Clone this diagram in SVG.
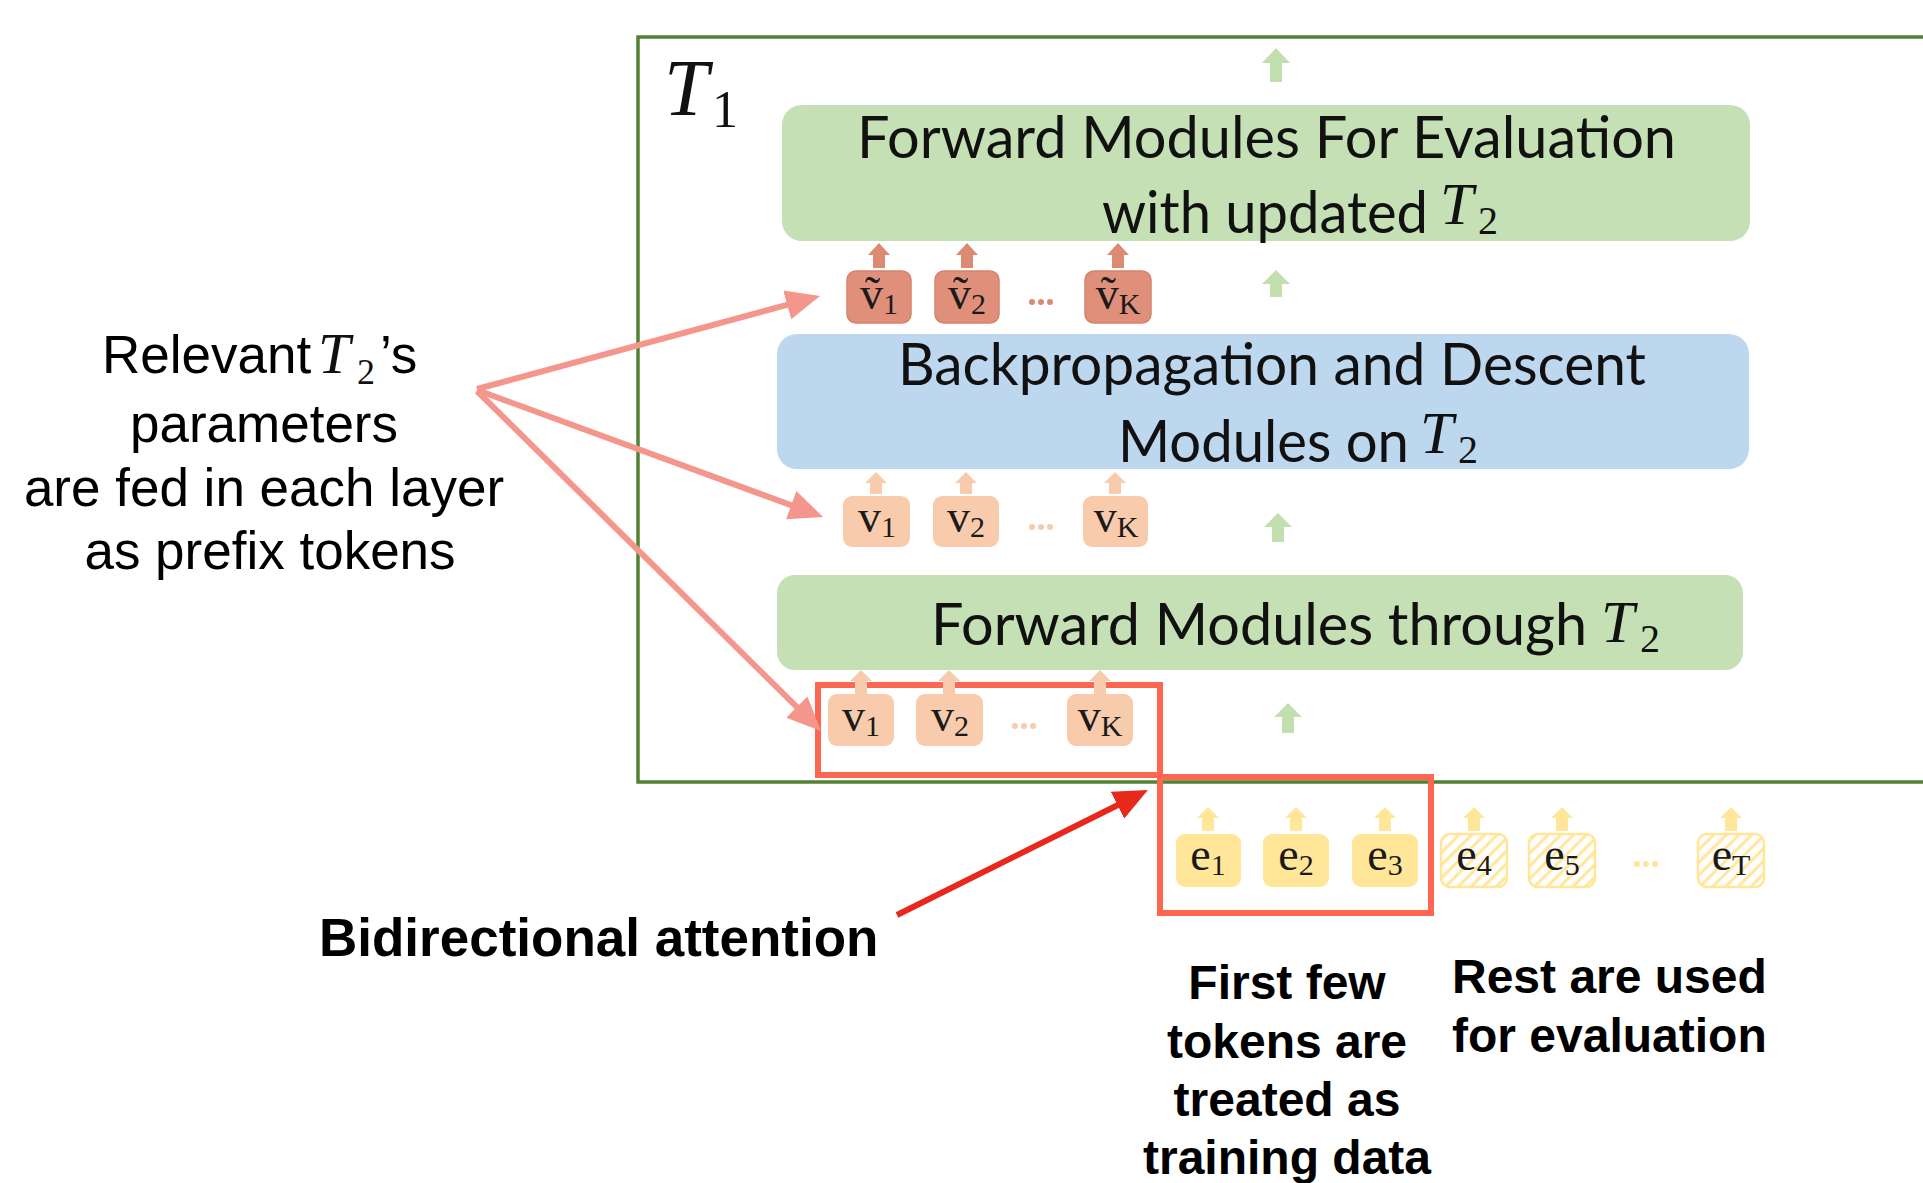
<svg xmlns="http://www.w3.org/2000/svg" width="1923" height="1183" viewBox="0 0 1923 1183">
<style>
.mod{font-family:Lato,"Open Sans",sans-serif;font-size:58px;fill:#111}
.math{font-family:"Liberation Serif",serif;font-style:italic;fill:#111}
.sub{font-family:"Liberation Serif",serif;fill:#111}
.lbl{font-family:"Liberation Sans",Arial,sans-serif;font-size:53px;fill:#000}
.bold{font-family:"Liberation Sans",Arial,sans-serif;font-weight:bold;fill:#000}
.tok{font-family:"Liberation Serif","DejaVu Serif",serif;font-size:46px;fill:#1a1a1a}
.tsub{font-size:30px}
.vt{fill:#e0907a;stroke:#d5826c;stroke-width:1.5}
.v{fill:#f8cbad}
.e{fill:#ffe699}
.eh{fill:url(#hatch);stroke:#ffe699;stroke-width:2.5}
.garr{fill:#c2dfb0}
.red{fill:none;stroke:#fd6650;stroke-width:6}
</style>
<defs>
<pattern id="hatch" patternUnits="userSpaceOnUse" width="9" height="9" patternTransform="rotate(45)">
<rect width="9" height="9" fill="#fff"/>
<line x1="2" y1="0" x2="2" y2="9" stroke="#ffe699" stroke-width="3"/>
</pattern>
<marker id="salmonHead" markerUnits="userSpaceOnUse" markerWidth="34" markerHeight="30" refX="14" refY="15" orient="auto">
<path d="M0,0 L34,15 L0,30 z" fill="#f5968c"/>
</marker>
<marker id="redHead" markerUnits="userSpaceOnUse" markerWidth="34" markerHeight="30" refX="14" refY="15" orient="auto">
<path d="M0,0 L34,15 L0,30 z" fill="#e8281a"/>
</marker>
</defs>
<rect width="1923" height="1183" fill="#fff"/>

<g id="t1-frame">
<rect x="638" y="37" width="1300" height="745" fill="none" stroke="#548235" stroke-width="3.5"/>
<text class="math" x="664" y="115" font-size="80">T<tspan class="sub" font-style="normal" x="712" y="127" font-size="52">1</tspan></text>
</g>

<g id="forward-eval">
<rect x="782" y="105" width="968" height="136" rx="20" fill="#c5e0b4"/>
<text class="mod" x="857" y="158" textLength="819" lengthAdjust="spacingAndGlyphs">Forward Modules For Evaluation</text>
<text class="mod" x="1102" y="233" textLength="326" lengthAdjust="spacingAndGlyphs">with updated</text>
<text class="math" x="1440" y="224" font-size="60">T<tspan class="sub" font-style="normal" x="1478" y="234" font-size="40">2</tspan></text>
</g>

<g id="backprop">
<rect x="777" y="334" width="972" height="135" rx="20" fill="#bdd7ee"/>
<text class="mod" x="898" y="385" textLength="748" lengthAdjust="spacingAndGlyphs">Backpropagation and Descent</text>
<text class="mod" x="1118" y="462" textLength="291" lengthAdjust="spacingAndGlyphs">Modules on</text>
<text class="math" x="1420" y="453" font-size="60">T<tspan class="sub" font-style="normal" x="1458" y="463" font-size="40">2</tspan></text>
</g>

<g id="forward-through">
<rect x="777" y="575" width="966" height="95" rx="18" fill="#c5e0b4"/>
<text class="mod" x="931" y="645" textLength="656" lengthAdjust="spacingAndGlyphs">Forward Modules through</text>
<text class="math" x="1601" y="642" font-size="60">T<tspan class="sub" font-style="normal" x="1640" y="652" font-size="40">2</tspan></text>
</g>

<g id="vtilde-row">
<rect class="vt" x="847" y="271" width="64" height="52" rx="9"/>
<rect class="vt" x="935" y="271" width="64" height="52" rx="9"/>
<rect class="vt" x="1085" y="271" width="66" height="52" rx="9"/>
<text class="tok" x="879" y="309" text-anchor="middle">ṽ<tspan class="tsub" dy="5">1</tspan></text>
<text class="tok" x="967" y="309" text-anchor="middle">ṽ<tspan class="tsub" dy="5">2</tspan></text>
<text class="tok" x="1118" y="309" text-anchor="middle">ṽ<tspan class="tsub" dy="5">K</tspan></text>
<circle cx="1032" cy="302" r="3" fill="#dc8a72"/><circle cx="1041" cy="302" r="3" fill="#dc8a72"/><circle cx="1050" cy="302" r="3" fill="#dc8a72"/>
</g>

<g id="v-row-2">
<rect class="v" x="843" y="496" width="67" height="51" rx="9"/>
<rect class="v" x="933" y="496" width="66" height="51" rx="9"/>
<rect class="v" x="1083" y="496" width="65" height="51" rx="9"/>
<text class="tok" x="877" y="532" text-anchor="middle">v<tspan class="tsub" dy="5">1</tspan></text>
<text class="tok" x="966" y="532" text-anchor="middle">v<tspan class="tsub" dy="5">2</tspan></text>
<text class="tok" x="1116" y="532" text-anchor="middle">v<tspan class="tsub" dy="5">K</tspan></text>
<circle cx="1032" cy="527" r="3" fill="#f8cbad"/><circle cx="1041" cy="527" r="3" fill="#f8cbad"/><circle cx="1050" cy="527" r="3" fill="#f8cbad"/>
</g>

<g id="v-row-3">
<rect class="v" x="828" y="694" width="66" height="52" rx="9"/>
<rect class="v" x="916" y="694" width="67" height="52" rx="9"/>
<rect class="v" x="1067" y="694" width="66" height="52" rx="9"/>
<text class="tok" x="861" y="731" text-anchor="middle">v<tspan class="tsub" dy="5">1</tspan></text>
<text class="tok" x="950" y="731" text-anchor="middle">v<tspan class="tsub" dy="5">2</tspan></text>
<text class="tok" x="1100" y="731" text-anchor="middle">v<tspan class="tsub" dy="5">K</tspan></text>
<circle cx="1015" cy="726" r="3" fill="#f8cbad"/><circle cx="1024" cy="726" r="3" fill="#f8cbad"/><circle cx="1033" cy="726" r="3" fill="#f8cbad"/>
</g>

<g id="e-row">
<rect class="e" x="1176" y="834" width="65" height="53" rx="9"/>
<rect class="e" x="1263" y="834" width="66" height="53" rx="9"/>
<rect class="e" x="1352" y="834" width="66" height="53" rx="9"/>
<rect class="eh" x="1441" y="834" width="66" height="53" rx="9"/>
<rect class="eh" x="1529" y="834" width="66" height="53" rx="9"/>
<rect class="eh" x="1698" y="834" width="66" height="53" rx="9"/>
<text class="tok" x="1208" y="870" text-anchor="middle">e<tspan class="tsub" dy="5">1</tspan></text>
<text class="tok" x="1296" y="870" text-anchor="middle">e<tspan class="tsub" dy="5">2</tspan></text>
<text class="tok" x="1385" y="870" text-anchor="middle">e<tspan class="tsub" dy="5">3</tspan></text>
<text class="tok" x="1474" y="870" text-anchor="middle">e<tspan class="tsub" dy="5">4</tspan></text>
<text class="tok" x="1562" y="870" text-anchor="middle">e<tspan class="tsub" dy="5">5</tspan></text>
<text class="tok" x="1731" y="870" text-anchor="middle">e<tspan class="tsub" dy="5">T</tspan></text>
<circle cx="1637" cy="864" r="3" fill="#ffe699"/><circle cx="1646" cy="864" r="3" fill="#ffe699"/><circle cx="1655" cy="864" r="3" fill="#ffe699"/>
</g>

<g id="param-label">
<text class="lbl" x="102" y="373">Relevant<tspan class="math" x="318" font-size="58">T</tspan><tspan class="sub" x="357" y="384" font-size="36">2</tspan><tspan x="380" y="373">’s</tspan></text>
<text class="lbl" x="264" y="442" text-anchor="middle">parameters</text>
<text class="lbl" x="264" y="506" text-anchor="middle">are fed in each layer</text>
<text class="lbl" x="270" y="569" text-anchor="middle">as prefix tokens</text>
</g>

<g id="bidir-label">
<text class="bold" x="319" y="956" font-size="53">Bidirectional attention</text>
</g>

<g id="train-label">
<text class="bold" x="1287" y="999" font-size="48" text-anchor="middle">First few</text>
<text class="bold" x="1287" y="1058" font-size="48" text-anchor="middle">tokens are</text>
<text class="bold" x="1287" y="1116" font-size="48" text-anchor="middle">treated as</text>
<text class="bold" x="1287" y="1174" font-size="48" text-anchor="middle">training data</text>
</g>

<g id="eval-label">
<text class="bold" x="1452" y="993" font-size="48">Rest are used</text>
<text class="bold" x="1452" y="1052" font-size="48">for evaluation</text>
</g>

<g id="highlight-boxes">
<rect class="red" x="818" y="685" width="342" height="90"/>
<rect class="red" x="1160" y="777" width="271" height="136"/>
</g>

<g id="connectors">
<polygon class="garr" points="1276,48 1290,63 1282,63 1282,82 1270,82 1270,63 1262,63"/>
<polygon class="garr" points="1276,270 1290,284 1282,284 1282,297 1270,297 1270,284 1262,284"/>
<polygon class="garr" points="1278,513 1292,527 1284,527 1284,542 1272,542 1272,527 1264,527"/>
<polygon class="garr" points="1288,703 1302,717 1294,717 1294,733 1282,733 1282,717 1274,717"/>
<g fill="#dc8a72">
<polygon points="879,243 890,255 885,255 885,268 873,268 873,255 868,255"/>
<polygon points="967,243 978,255 973,255 973,268 961,268 961,255 956,255"/>
<polygon points="1118,243 1129,255 1124,255 1124,268 1112,268 1112,255 1107,255"/>
</g>
<g fill="#f8cbad">
<polygon points="876,472 887,483 882,483 882,494 870,494 870,483 865,483"/>
<polygon points="966,472 977,483 972,483 972,494 960,494 960,483 955,483"/>
<polygon points="1115,472 1126,483 1121,483 1121,494 1109,494 1109,483 1104,483"/>
<polygon points="861,670 872,681 867,681 867,694 855,694 855,681 850,681"/>
<polygon points="949,670 960,681 955,681 955,694 943,694 943,681 938,681"/>
<polygon points="1100,670 1111,681 1106,681 1106,694 1094,694 1094,681 1089,681"/>
</g>
<g fill="#ffe699">
<polygon points="1208,807 1219,818 1214,818 1214,831 1202,831 1202,818 1197,818"/>
<polygon points="1296,807 1307,818 1302,818 1302,831 1290,831 1290,818 1285,818"/>
<polygon points="1385,807 1396,818 1391,818 1391,831 1379,831 1379,818 1374,818"/>
<polygon points="1474,807 1485,818 1480,818 1480,831 1468,831 1468,818 1463,818"/>
<polygon points="1562,807 1573,818 1568,818 1568,831 1556,831 1556,818 1551,818"/>
<polygon points="1731,807 1742,818 1737,818 1737,831 1725,831 1725,818 1720,818"/>
</g>
<g stroke="#f5968c" stroke-width="6" fill="none">
<line x1="477" y1="389" x2="800.7" y2="301.2" marker-end="url(#salmonHead)"/>
<line x1="477" y1="390" x2="804.3" y2="510" marker-end="url(#salmonHead)"/>
<line x1="477" y1="391" x2="806.8" y2="716.9" marker-end="url(#salmonHead)"/>
</g>
<line x1="897" y1="915" x2="1130" y2="799" stroke="#e8281a" stroke-width="6" marker-end="url(#redHead)"/>
</g>
</svg>
